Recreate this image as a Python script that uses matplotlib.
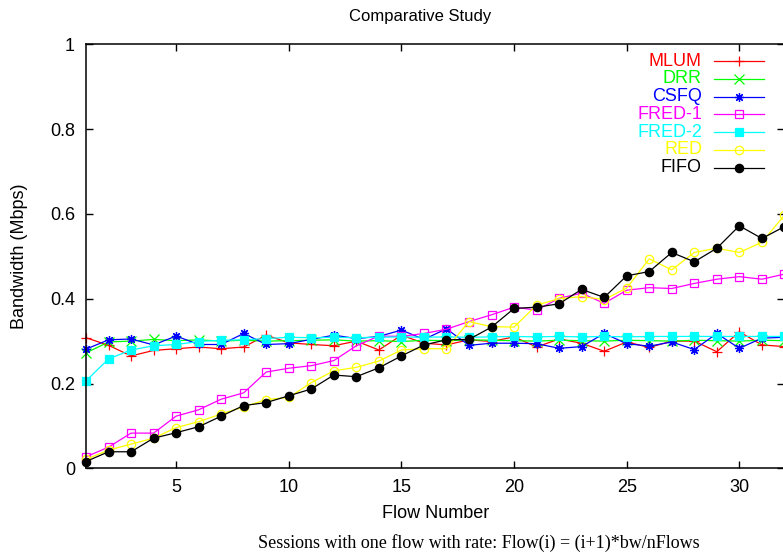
import matplotlib
matplotlib.use("Agg")
import matplotlib.pyplot as plt

plt.rcParams['font.family'] = ['Liberation Sans', 'DejaVu Sans']

flows = list(range(1, 33))

mlum = [0.308, 0.290, 0.265, 0.278, 0.282, 0.286, 0.282, 0.286, 0.314, 0.296,
        0.292, 0.289, 0.300, 0.279, 0.314, 0.295, 0.291, 0.303, 0.299, 0.310,
        0.286, 0.305, 0.295, 0.276, 0.298, 0.285, 0.300, 0.300, 0.275, 0.322,
        0.291, 0.287]
drr = [0.272, 0.298, 0.300, 0.304, 0.301, 0.303, 0.300, 0.302, 0.300, 0.301,
       0.302, 0.303, 0.300, 0.301, 0.299, 0.302, 0.301, 0.303, 0.302, 0.301,
       0.300, 0.302, 0.301, 0.300, 0.302, 0.301, 0.300, 0.302, 0.301, 0.300,
       0.302, 0.301]
csfq = [0.281, 0.303, 0.305, 0.291, 0.312, 0.292, 0.292, 0.318, 0.292, 0.294,
        0.304, 0.314, 0.306, 0.311, 0.326, 0.304, 0.329, 0.290, 0.295, 0.295,
        0.294, 0.283, 0.287, 0.318, 0.294, 0.288, 0.298, 0.280, 0.318, 0.283,
        0.307, 0.309]
fred1 = [0.027, 0.050, 0.083, 0.083, 0.123, 0.138, 0.163, 0.178, 0.227, 0.236,
         0.242, 0.254, 0.289, 0.312, 0.311, 0.318, 0.328, 0.346, 0.362, 0.380,
         0.373, 0.401, 0.413, 0.389, 0.420, 0.426, 0.424, 0.436, 0.446, 0.452,
         0.446, 0.458]
fred2 = [0.206, 0.258, 0.279, 0.289, 0.292, 0.299, 0.302, 0.303, 0.306, 0.309,
         0.308, 0.309, 0.308, 0.309, 0.310, 0.309, 0.310, 0.309, 0.310, 0.311,
         0.310, 0.311, 0.310, 0.311, 0.310, 0.311, 0.311, 0.311, 0.311, 0.311,
         0.311, 0.311]
red = [0.021, 0.043, 0.057, 0.071, 0.096, 0.110, 0.128, 0.145, 0.162, 0.167,
       0.202, 0.230, 0.238, 0.253, 0.279, 0.282, 0.282, 0.346, 0.334, 0.333,
       0.385, 0.400, 0.405, 0.398, 0.425, 0.494, 0.468, 0.509, 0.519, 0.509,
       0.533, 0.597]
fifo = [0.016, 0.039, 0.039, 0.071, 0.084, 0.098, 0.123, 0.148, 0.155, 0.171,
        0.187, 0.220, 0.216, 0.237, 0.265, 0.291, 0.303, 0.304, 0.333, 0.377,
        0.380, 0.388, 0.422, 0.403, 0.454, 0.464, 0.509, 0.487, 0.519, 0.572,
        0.542, 0.570]

series = [
    ("MLUM", mlum, "#ff0000", "+", "full"),
    ("DRR", drr, "#00ff00", "x", "full"),
    ("CSFQ", csfq, "#0000ff", (8, 2, 0), "full"),
    ("FRED-1", fred1, "#ff00ff", "s", "none"),
    ("FRED-2", fred2, "#00ffff", "s", "full"),
    ("RED", red, "#ffff00", "o", "none"),
    ("FIFO", fifo, "#000000", "o", "full"),
]

W, H = 783, 555
fig = plt.figure(figsize=(W / 100, H / 100), dpi=100)
x0, x1 = 86, 784.4
y0, y1 = 468.3, 44.3
ax = fig.add_axes([x0 / W, 1 - y0 / H, (x1 - x0) / W, (y0 - y1) / H])


def msize(mk):
    return 6.5 if mk in ("+", "x", (8, 2, 0)) else 6


for name, vals, col, mk, fill in series:
    ax.plot(flows, vals, color=col, lw=0.9, marker=mk, ms=msize(mk),
            fillstyle=fill, mew=0.9, clip_on=False)

ax.set_xlim(1, 32)
ax.set_ylim(0, 1)
ax.set_xticks([5, 10, 15, 20, 25, 30])
ax.set_yticks([0, 0.2, 0.4, 0.6, 0.8, 1])
ax.set_yticklabels(["0", "0.2", "0.4", "0.6", "0.8", "1"])
ax.tick_params(direction="in", length=5, width=1, labelsize=13,
               top=True, right=True, pad=8)
for sp in ax.spines.values():
    sp.set_linewidth(1.1)

# legend drawn by hand in gnuplot style
for k, (name, vals, col, mk, fill) in enumerate(series):
    yy = 61 + k * 17.8
    fig.text(702 / W, 1 - yy / H, name, color=col, fontsize=13,
             ha="right", va="center")
    fig.add_artist(plt.Line2D([714 / W, 764 / W], [1 - yy / H] * 2,
                              color=col, lw=0.9, transform=fig.transFigure))
    fig.add_artist(plt.Line2D([739 / W], [1 - yy / H], color=col,
                              marker=mk, ms=msize(mk), fillstyle=fill, mew=0.9,
                              transform=fig.transFigure))

fig.text(420 / W, 1 - 17 / H, "Comparative Study", fontsize=12,
         ha="center", va="center")
fig.text(436 / W, 1 - 513 / H, "Flow Number", fontsize=13,
         ha="center", va="center")
fig.text(20 / W, 1 - 256 / H, "Bandwidth (Mbps)", fontsize=13,
         ha="center", va="center", rotation=90)
fig.text(479 / W, 1 - 543 / H,
         "Sessions with one flow with rate: Flow(i) = (i+1)*bw/nFlows",
         fontsize=13, ha="center", va="center",
         family=["Liberation Serif", "DejaVu Serif"])

fig.savefig("out.png", dpi=100)
